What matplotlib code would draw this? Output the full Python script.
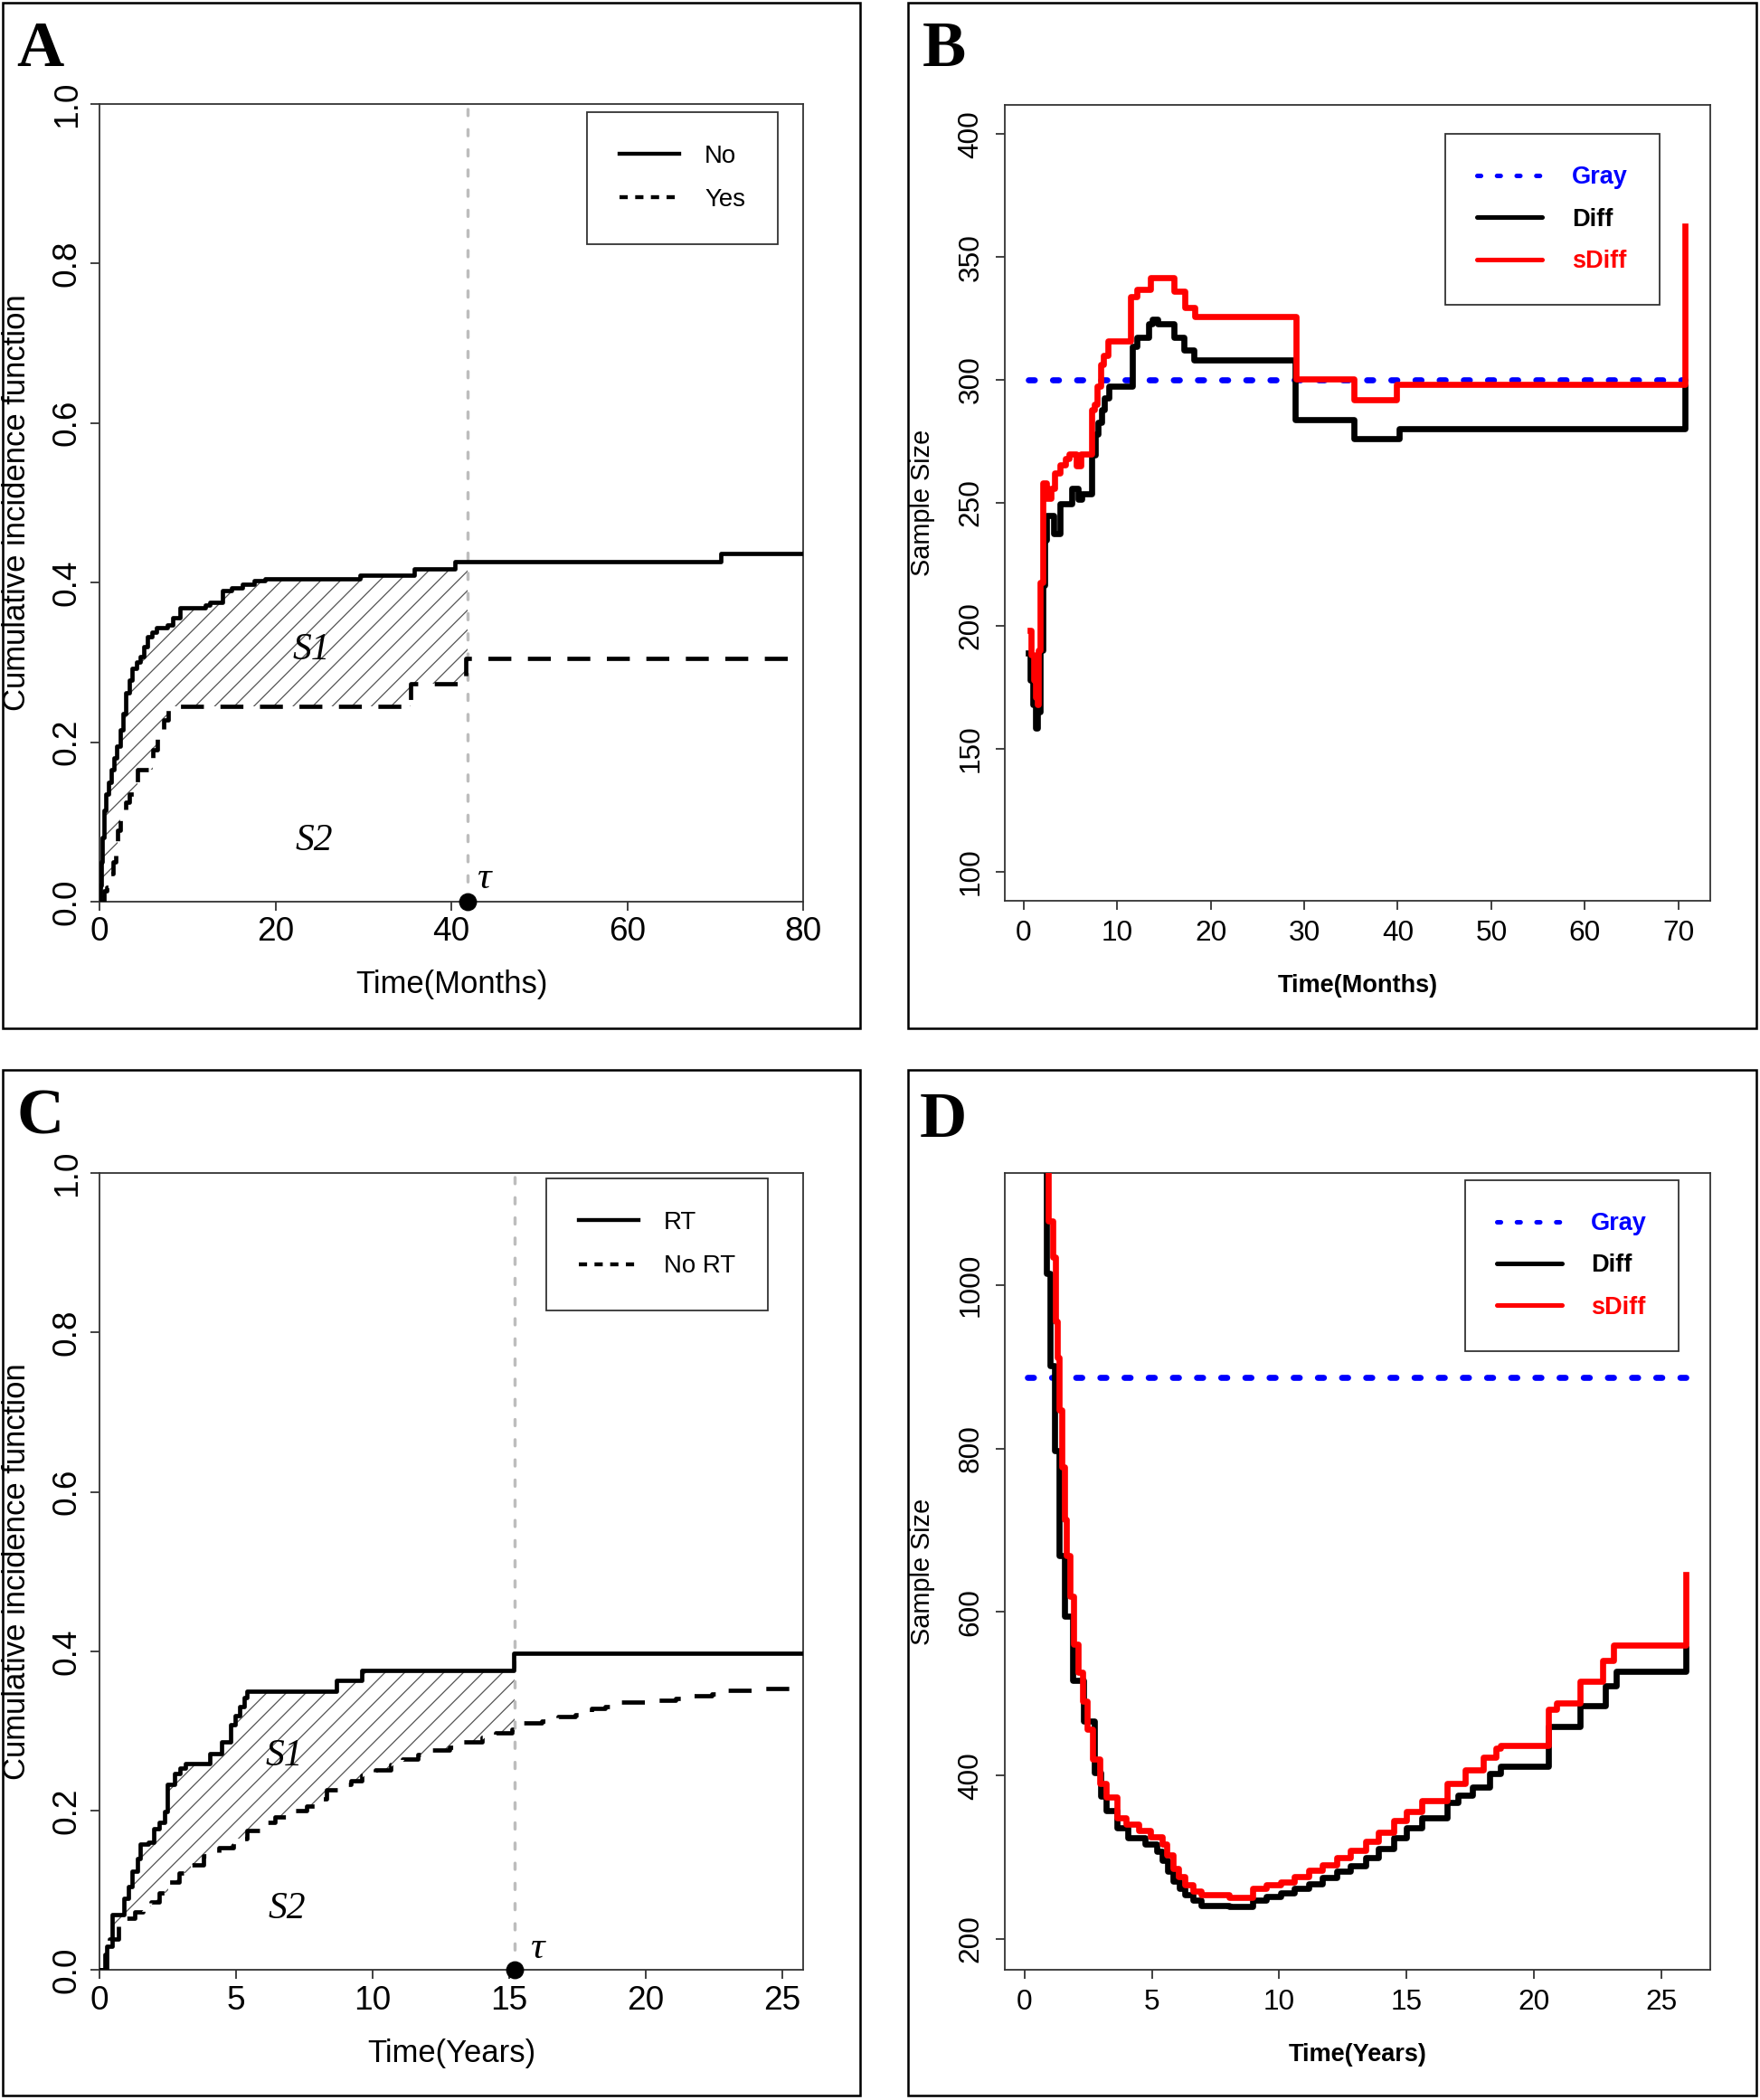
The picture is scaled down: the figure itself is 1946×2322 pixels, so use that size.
import numpy as np
import matplotlib
matplotlib.use("Agg")
import matplotlib.pyplot as plt
from matplotlib.patches import Rectangle
from matplotlib.lines import Line2D

# ---------------- data ----------------
# Panel A : cumulative incidence (months)
A_NO_T = [0, 0.1, 0.2, 0.35, 0.5, 0.75, 1.0, 1.3, 1.6, 2.0, 2.4, 2.7, 3.0, 3.4, 3.7, 4.2, 4.6,
          5.0, 5.4, 6.0, 6.5, 7.7, 8.35, 9.2, 12.0, 12.5, 14.0, 15.0, 16.2, 17.6, 18.8, 29.6,
          35.8, 40.4, 70.6, 80]
A_NO_V = [0, 0.02, 0.05, 0.08, 0.115, 0.135, 0.15, 0.165, 0.18, 0.195, 0.215, 0.236, 0.262,
          0.278, 0.292, 0.30, 0.307, 0.32, 0.332, 0.338, 0.343, 0.347, 0.356, 0.368, 0.372,
          0.375, 0.39, 0.393, 0.398, 0.402, 0.405, 0.409, 0.417, 0.426, 0.437, 0.437]
A_YES_T = [0, 0.55, 0.83, 1.2, 1.5, 1.8, 2.1, 2.4, 3.0, 3.4, 4.3, 6.1, 6.6, 7.3, 7.8, 35.4, 41.6, 80]
A_YES_V = [0, 0.014, 0.018, 0.035, 0.05, 0.068, 0.09, 0.11, 0.125, 0.135, 0.165, 0.19, 0.21,
           0.228, 0.245, 0.273, 0.305, 0.305]
A_TAU = 41.8
A_LABELS = ["No", "Yes"]
A_XTICKS = [0, 20, 40, 60, 80]
A_YTICKS = [0.0, 0.2, 0.4, 0.6, 0.8, 1.0]
A_YTICKLABELS = ["0.0", "0.2", "0.4", "0.6", "0.8", "1.0"]

# Panel B : sample size (months)
B_GRAY_T = [0.53, 70.7]
B_GRAY_V = [300, 300]
B_DIFF_T = [0.53, 0.75, 0.95, 1.26, 1.5, 1.8, 2.1, 2.3, 2.4, 3.2, 3.9, 5.2, 5.8, 6.2, 7.26, 7.7,
            8.0, 8.3, 8.6, 9.1, 11.6, 12.1, 13.4, 13.8, 14.3, 16.1, 17.1, 18.2, 29.0, 35.3, 40.1, 70.7]
B_DIFF_V = [189, 178, 168, 158.2, 165, 190, 216.5, 235, 244.7, 237.3, 249.6, 255.8, 251.5, 253.5,
            269.3, 277.9, 282.9, 287.8, 292.6, 297.5, 313.5, 317.2, 322.7, 324.5, 322.7, 317.2,
            312.3, 308.0, 284.0, 276.0, 280.1, 297.0]
B_SDIFF_T = [0.66, 0.85, 1.05, 1.25, 1.44, 1.6, 1.79, 2.1, 2.45, 2.9, 3.3, 3.9, 4.5, 4.85, 5.6,
             6.1, 7.26, 7.6, 7.9, 8.2, 8.55, 9.0, 11.44, 12.1, 13.55, 16.1, 17.2, 18.3, 29.1,
             35.3, 39.9, 70.7]
B_SDIFF_V = [198, 188, 178, 171, 168, 190, 217.7, 258.2, 252, 256, 262, 265.6, 268, 269.9, 265,
             269.9, 287.7, 290.2, 297.5, 306.1, 309.8, 316, 333.8, 336.8, 341.7, 336.2, 329.4,
             325.8, 300.3, 292, 298.1, 362.6]
B_XTICKS = [0, 10, 20, 30, 40, 50, 60, 70]
B_YTICKS = [100, 150, 200, 250, 300, 350, 400]
SS_LABELS = ["Gray", "Diff", "sDiff"]

# Panel C : cumulative incidence (years)
C_RT_T = [0, 0.26, 0.47, 0.88, 1.05, 1.2, 1.4, 1.5, 1.8, 2.0, 2.2, 2.37, 2.48, 2.76, 2.95, 3.15,
          4.03, 4.47, 4.8, 4.97, 5.13, 5.3, 5.41, 8.66, 9.6, 15.18, 25.76]
C_RT_V = [0, 0.03, 0.07, 0.09, 0.105, 0.124, 0.14, 0.158, 0.16, 0.177, 0.185, 0.199, 0.233,
          0.247, 0.253, 0.259, 0.272, 0.286, 0.308, 0.319, 0.331, 0.342, 0.35, 0.363, 0.376,
          0.397, 0.397]
C_NORT_T = [0, 0.2, 0.37, 0.68, 1.0, 1.29, 1.6, 1.9, 2.2, 2.53, 2.9, 3.35, 3.8, 4.38, 4.9, 5.41,
            6.0, 6.43, 7.1, 7.57, 8.0, 8.3, 8.7, 9.2, 9.6, 10.1, 10.65, 11.1, 11.65, 12.2, 12.8,
            13.2, 14.0, 14.5, 15.1, 15.45, 16.2, 16.8, 17.4, 18.0, 18.5, 19.1, 20.4, 21.1, 21.7,
            22.4, 23.0, 24.3, 25.76]
C_NORT_V = [0, 0.02, 0.039, 0.056, 0.065, 0.073, 0.08, 0.086, 0.097, 0.111, 0.122, 0.132, 0.143,
            0.154, 0.165, 0.175, 0.185, 0.192, 0.2, 0.206, 0.215, 0.226, 0.233, 0.238, 0.244,
            0.251, 0.258, 0.265, 0.27, 0.276, 0.28, 0.286, 0.292, 0.298, 0.302, 0.31, 0.313,
            0.318, 0.32, 0.328, 0.331, 0.336, 0.339, 0.341, 0.344, 0.346, 0.351, 0.353, 0.353]
C_TAU = 15.2
C_LABELS = ["RT", "No RT"]
C_XTICKS = [0, 5, 10, 15, 20, 25]

# Panel D : sample size (years)
D_GRAY_T = [0.13, 25.95]
D_GRAY_V = [887, 887]
D_DIFF_T = [0.25, 0.88, 1.02, 1.19, 1.37, 1.58, 1.9, 2.33, 2.75, 3.0, 3.19, 3.63, 4.07, 4.74,
            5.18, 5.4, 5.62, 5.85, 6.07, 6.3, 6.6, 6.95, 8.05, 8.95, 9.5, 10.05, 10.6, 11.16,
            11.7, 12.27, 12.8, 13.38, 13.9, 14.48, 15.0, 15.59, 16.59, 17.0, 17.58, 18.25,
            18.69, 20.57, 21.79, 22.79, 23.23, 25.95]
D_DIFF_V = [1500, 1014.7, 901.1, 797.4, 669.1, 595, 516, 466.7, 403.5, 375, 357, 336.4, 324,
            315.7, 307.4, 296, 282.7, 271, 262, 254, 247.9, 241.3, 239.5, 247.9, 252, 256.2,
            262, 267.8, 275, 282.7, 290, 299.2, 311, 324, 336, 348.8, 367, 376, 385.9, 402.5,
            411, 460.4, 485.1, 510, 527, 555.5]
D_SDIFF_T = [0.25, 0.93, 1.1, 1.22, 1.3, 1.36, 1.45, 1.57, 1.66, 1.8, 1.92, 2.1, 2.28, 2.45,
             2.69, 2.96, 3.19, 3.63, 4.0, 4.5, 4.96, 5.4, 5.6, 5.85, 6.05, 6.3, 6.6, 6.95, 8.05,
             8.95, 9.5, 10.05, 10.6, 11.16, 11.7, 12.27, 12.8, 13.38, 13.9, 14.48, 15.0, 15.59,
             16.59, 17.3, 18.0, 18.5, 18.69, 20.57, 20.9, 21.79, 22.68, 23.12, 25.95]
D_SDIFF_V = [1500, 1078.8, 1034.4, 955.4, 911, 846.8, 777.7, 713.6, 669.1, 619.7, 560.5, 525.9,
             491.4, 456.8, 420, 390, 373.7, 348.8, 340, 333, 325, 315.7, 303, 286.8, 276, 266.2,
             259, 253.8, 251, 262, 266, 270.2, 276, 284.3, 291, 299.2, 309, 319.9, 331, 344.7,
             356, 369.5, 390.1, 407, 422, 433, 437, 481, 488.8, 515.8, 540.6, 559.6, 646.4]
D_XTICKS = [0, 5, 10, 15, 20, 25]
D_YTICKS = [200, 400, 600, 800, 1000]

# ---------------- figure ----------------
W, H = 1946, 2322
DPI = 130
plt.rcParams["font.family"] = ["Liberation Sans", "DejaVu Sans"]
plt.rcParams["hatch.linewidth"] = 0.7
fig = plt.figure(figsize=(W / DPI, H / DPI), dpi=DPI)

SERIF = ["Liberation Serif", "DejaVu Serif"]
AXCOL = "#333333"


def ax_at(l, t, r, b):
    return fig.add_axes([l / W, 1 - b / H, (r - l) / W, (b - t) / H])


def frame(l, t, r, b):
    fig.add_artist(Rectangle((l / W, 1 - b / H), (r - l) / W, (b - t) / H,
                             transform=fig.transFigure, fill=False, ec="black", lw=1.4))


def letter(x, base, s):
    fig.text(x / W, 1 - base / H, s, fontfamily=SERIF, fontweight="bold",
             fontsize=40, va="baseline", ha="left")


def style(ax, xt, yt, ytl, fs, xpad, ypad):
    for s in ax.spines.values():
        s.set_color(AXCOL)
        s.set_linewidth(1.0)
    ax.set_xticks(xt)
    ax.set_xticklabels([str(v) for v in xt])
    ax.set_yticks(yt)
    ax.set_yticklabels(ytl, rotation=90, va="center")
    ax.tick_params(direction="out", length=5.5, width=1.0, color=AXCOL, labelsize=fs)
    ax.tick_params(axis="x", pad=xpad)
    ax.tick_params(axis="y", pad=ypad)


def step_eval(t, v, x):
    t = np.asarray(t)
    v = np.asarray(v)
    idx = np.clip(np.searchsorted(t, x, side="right") - 1, 0, len(v) - 1)
    return v[idx]


def cif_panel(ax, t1, v1, t2, v2, tau, labels, xlim, xticks, xlabel, s1, s2, taupos, leg_anchor,
              dash_leg):
    ax.set_xlim(*xlim)
    ax.set_ylim(0, 1)
    # hatched area between curves up to tau
    t1a, t2a = np.asarray(t1), np.asarray(t2)
    grid = np.unique(np.concatenate([t1a[t1a <= tau], t2a[t2a <= tau], [tau]]))
    up = step_eval(t1, v1, grid)
    lo = step_eval(t2, v2, grid)
    ax.fill_between(grid, lo, up, step="post", facecolor="none", edgecolor="#555555",
                    hatch="//", linewidth=0)
    ax.axvline(tau, color="#BDBDBD", lw=1.9, linestyle=(0, (2.0, 4.5)),
               dash_capstyle="round", zorder=1)
    ax.step(t1, v1, where="post", color="black", lw=2.6, zorder=3)
    ax.step(t2, v2, where="post", color="black", lw=2.6, linestyle=(0, (5.4, 3.9)), zorder=3)
    ax.plot([tau], [0], "o", color="black", ms=10, clip_on=False, zorder=5)
    ax.text(taupos[0], taupos[1], "τ", fontfamily=SERIF, fontstyle="italic", fontsize=24,
            ha="left", va="baseline")
    ax.text(s1[0], s1[1], "S1", fontfamily=SERIF, fontstyle="italic", fontsize=23,
            ha="center", va="center")
    ax.text(s2[0], s2[1], "S2", fontfamily=SERIF, fontstyle="italic", fontsize=23,
            ha="center", va="center")
    style(ax, xticks, A_YTICKS, A_YTICKLABELS, 20.5, 3.5, 4.5)
    ax.text(0.5, -0.104, xlabel, transform=ax.transAxes, ha="center", va="center", fontsize=19.2)
    ax.text(-0.1175, 0.5, "Cumulative incidence function", transform=ax.transAxes,
            ha="center", va="center", rotation=90, fontsize=19.2)
    handles = [Line2D([], [], color="black", lw=2.4),
               Line2D([], [], color="black", lw=2.4, linestyle=(0, dash_leg))]
    leg = ax.legend(handles, labels, loc="upper right", bbox_to_anchor=leg_anchor,
                    borderaxespad=0, fontsize=15.3, frameon=True, fancybox=False,
                    edgecolor=AXCOL, framealpha=1, borderpad=1.3, handlelength=2.4,
                    handletextpad=1.0, labelspacing=0.8)
    leg.get_frame().set_linewidth(1.0)


def ss_panel(ax, gt, gv, dt, dv, st, sv, xlim, ylim, xticks, yticks, xlabel, leg_anchor):
    ax.set_xlim(*xlim)
    ax.set_ylim(*ylim)
    ax.plot(gt, gv, color="#0000FF", lw=3.7, linestyle=(0, (1.0, 3.0)),
            dash_capstyle="round", zorder=2)
    ax.step(dt, dv, where="post", color="black", lw=3.7, zorder=3)
    ax.step(st, sv, where="post", color="#FF0000", lw=3.7, zorder=4)
    style(ax, xticks, yticks, [str(v) for v in yticks], 17.5, 6.0, 7.0)
    ax.text(0.5, -0.106, xlabel, transform=ax.transAxes, ha="center", va="center",
            fontsize=15, fontweight="bold")
    ax.text(-0.117, 0.5, "Sample Size", transform=ax.transAxes, ha="center", va="center",
            rotation=90, fontsize=16)
    handles = [Line2D([], [], color="#0000FF", lw=2.8, linestyle=(0, (0.8, 3.5)),
                      dash_capstyle="round"),
               Line2D([], [], color="black", lw=2.8, solid_capstyle="round"),
               Line2D([], [], color="#FF0000", lw=2.8, solid_capstyle="round")]
    leg = ax.legend(handles, SS_LABELS, loc="upper right", bbox_to_anchor=leg_anchor,
                    borderaxespad=0, frameon=True, fancybox=False, edgecolor=AXCOL,
                    framealpha=1, borderpad=1.3, handlelength=2.65, handletextpad=1.2,
                    labelspacing=0.75, prop={"size": 15, "weight": "bold"})
    leg.get_frame().set_linewidth(1.0)
    for txt, c in zip(leg.get_texts(), ["#0000FF", "black", "#FF0000"]):
        txt.set_color(c)


# frames and panel letters
frame(3, 3, 951, 1137)
frame(1004, 3, 1942, 1137)
frame(3, 1183, 951, 2317)
frame(1004, 1183, 1942, 2317)
letter(18, 73, "A")
letter(1020, 73, "B")
letter(18, 1253, "C")
letter(1017, 1257, "D")

axA = ax_at(110, 115, 888, 997)
cif_panel(axA, A_NO_T, A_NO_V, A_YES_T, A_YES_V, A_TAU, A_LABELS, (0, 80), A_XTICKS,
          "Time(Months)", (24.1, 0.315), (24.4, 0.076), (42.9, 0.017), (0.964, 0.990),
          (2.1, 1.9))

axB = ax_at(1111, 115.6, 1891, 996.3)
ss_panel(axB, B_GRAY_T, B_GRAY_V, B_DIFF_T, B_DIFF_V, B_SDIFF_T, B_SDIFF_V, (-2.0, 73.4),
         (88, 412), B_XTICKS, B_YTICKS, "Time(Months)", (0.928, 0.963))

axC = ax_at(110, 1297, 888, 2178.4)
cif_panel(axC, C_RT_T, C_RT_V, C_NORT_T, C_NORT_V, C_TAU, C_LABELS, (0, 25.76), C_XTICKS,
          "Time(Years)", (6.75, 0.268), (6.85, 0.077), (15.75, 0.015), (0.95, 0.993),
          (2.1, 1.9))

axD = ax_at(1111, 1297, 1891.3, 2178.4)
ss_panel(axD, D_GRAY_T, D_GRAY_V, D_DIFF_T, D_DIFF_V, D_SDIFF_T, D_SDIFF_V, (-0.77, 26.93),
         (162, 1137), D_XTICKS, D_YTICKS, "Time(Years)", (0.955, 0.991))

fig.savefig("out.png", dpi=DPI)
